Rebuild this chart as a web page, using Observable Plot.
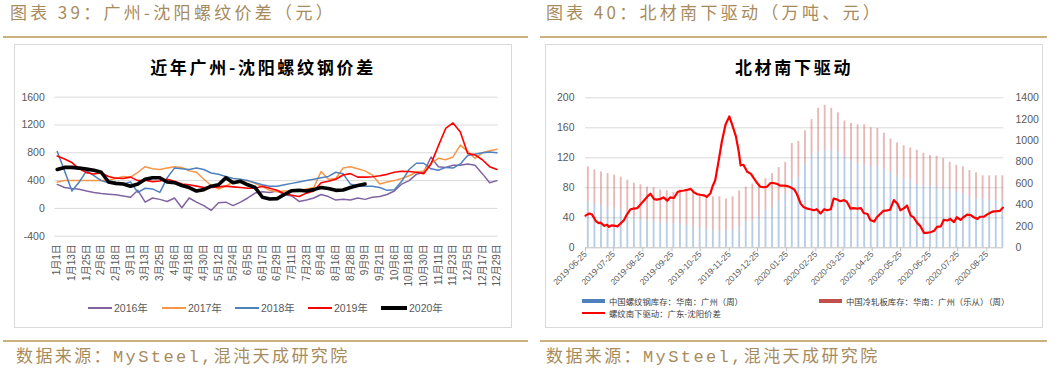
<!DOCTYPE html>
<html><head><meta charset="utf-8">
<script src="https://cdn.jsdelivr.net/npm/d3@7"></script>
<script src="https://cdn.jsdelivr.net/npm/@observablehq/plot@0.6"></script>
<style>
html,body{margin:0;padding:0;background:#fff;}
body{width:1061px;height:373px;position:relative;overflow:hidden;font-family:"Noto Sans CJK SC","Liberation Sans",sans-serif;}
.hdr{position:absolute;top:1px;font-size:17px;color:#A88B5C;letter-spacing:3.3px;white-space:nowrap;line-height:21px;}
.rule{position:absolute;height:1.5px;background:#CDB07F;}
.panel{position:absolute;border:1px solid #d9d9d9;box-sizing:border-box;}
.ptitle{position:absolute;text-align:center;font-weight:bold;font-size:17px;letter-spacing:2.7px;color:#000;line-height:20px;white-space:nowrap;}
.foot{position:absolute;top:347px;font-family:"Liberation Mono","Noto Sans CJK SC",monospace;font-size:17px;color:#A88B5C;letter-spacing:2.4px;white-space:nowrap;line-height:22px;}
.lg{position:absolute;font-size:10.5px;color:#595959;white-space:nowrap;line-height:12px;font-family:"Liberation Sans","Noto Sans CJK SC",sans-serif;}
.sw{position:absolute;}
.lg2{position:absolute;font-size:8.4px;color:#404040;white-space:nowrap;line-height:10px;}
.chart{position:absolute;}
</style></head><body>
<div class="hdr" style="left:10px">图表 39：广州-沈阳螺纹价差（元）</div>
<div class="hdr" style="left:546px">图表 40：北材南下驱动（万吨、元）</div>
<div class="rule" style="left:3px;width:525px;top:36px"></div>
<div class="rule" style="left:540px;width:507px;top:36px"></div>
<div class="panel" style="left:14px;top:44px;width:498px;height:284px"></div>
<div class="panel" style="left:545px;top:44px;width:498px;height:284px"></div>
<div class="ptitle" style="left:14px;width:498px;top:57px">近年广州-沈阳螺纹钢价差</div>
<div class="ptitle" style="left:545px;width:498px;top:57px">北材南下驱动</div>
<div id="left" class="chart" style="left:0;top:80px;width:530px;height:220px"></div>
<div id="right1" class="chart" style="left:540px;top:80px;width:521px;height:220px"></div>
<div id="right2" class="chart" style="left:540px;top:80px;width:521px;height:220px"></div>
<div id="legL"></div>
<div id="legR"></div>
<div class="rule" style="left:3px;width:525px;top:340px"></div>
<div class="rule" style="left:540px;width:507px;top:340px"></div>
<div class="foot" style="left:16px">数据来源：MySteel,混沌天成研究院</div>
<div class="foot" style="left:546px">数据来源：MySteel,混沌天成研究院</div>
<script>
// ---------- Left chart data (day index within year, step 6) ----------
const leftDays = [0,6,12,18,24,30,36,42,48,54,60,66,72,78,84,90,96,102,108,114,120,126,132,138,144,150,156,162,168,174,180,186,192,198,204,210,216,222,228,234,240,246,252,258,264,270,276,282,288,294,300,306,312,318,324,330,336,342,348,354,360];
const leftXTickIdx = [0,12,24,36,48,60,72,84,96,108,120,132,144,156,168,180,192,204,216,228,240,252,264,276,288,300,312,324,336,348,360];
const leftXLabels = ["1月1日","1月13日","1月25日","2月6日","2月18日","3月1日","3月13日","3月25日","4月6日","4月18日","4月30日","5月12日","5月24日","6月5日","6月17日","6月29日","7月11日","7月23日","8月4日","8月16日","8月28日","9月9日","9月21日","10月6日","10月18日","10月30日","11月11日","11月23日","12月5日","12月17日","12月29日"];
const leftYTicks = [-400,0,400,800,1200,1600];
const v2016 = [345,300,285,275,250,230,215,205,195,180,160,260,90,150,130,100,150,10,150,90,40,-30,80,90,40,90,150,220,240,230,250,200,180,100,120,150,200,170,120,130,120,150,130,160,170,200,250,350,400,490,520,740,600,590,620,620,640,620,500,370,400];
const v2017 = [380,400,400,400,400,400,400,410,430,460,450,520,600,570,560,580,600,590,540,520,420,330,280,320,380,390,400,360,310,260,240,250,250,250,280,300,530,420,430,580,600,570,540,480,350,380,400,430,470,520,540,650,720,700,740,910,820,720,800,830,850];
const v2018 = [820,540,250,380,540,470,400,370,370,350,380,230,290,280,230,440,580,570,560,580,560,510,490,460,430,420,400,370,340,320,320,340,360,380,400,420,440,460,520,500,350,320,320,320,300,260,270,390,560,650,650,570,550,590,580,640,760,780,800,810,800];
const v2019 = [754,710,660,570,515,495,510,460,435,430,450,400,405,385,395,420,390,350,340,320,300,300,310,320,310,300,290,290,320,290,260,210,190,170,220,250,370,390,420,480,500,450,450,455,470,490,520,535,530,520,500,640,900,1150,1230,1100,790,770,700,600,560];
const v2020 = [560,590,590,580,565,550,520,380,360,350,320,350,420,440,440,380,370,330,300,250,270,320,340,440,370,390,340,300,160,135,140,200,255,260,250,270,300,285,260,265,300,330,350];
const leftSeries = [
  {name:"2016年", values:v2016, color:"#8064A2", w:1.5},
  {name:"2017年", values:v2017, color:"#F79646", w:1.5},
  {name:"2018年", values:v2018, color:"#4F81BD", w:1.5},
  {name:"2019年", values:v2019, color:"#FF0000", w:1.6},
  {name:"2020年", values:v2020, color:"#000000", w:3.6}
];

// ---------- Right chart data ----------
const barStart = "2019-06-28";           // first weekly observation (Fridays)
const rebarStock = [61,59,56,54,53,50,48,41,39,36,35,34,33,32,32,30,28,27,25,23,22,22,24,28,34,36,41,50,54,63,72,90,94,112,123,128,130,130,128,121,116,112,110,108,108,105,101,96,92,90,85,83,82,81,79,76,74,72,68,65,65,63,63,62];
const coldStock = [47,45,45,45,44,44,42,45,45,45,45,43,43,42,45,46,46,45,45,45,46,43,44,48,47,49,43,42,45,44,42,49,48,44,48,58,60,56,52,48,50,52,54,52,51,48,44,44,44,43,45,43,41,41,40,38,36,36,35,35,31,33,33,34];
const spreadStart = "2019-06-25";
const spreadDay = [0,4,7,11,14,16,20,23,25,28,32,34,37,41,44,48,51,55,59,62,66,69,73,76,80,83,87,90,94,98,101,105,108,112,115,119,122,126,129,133,135,138,142,145,149,153,156,160,163,165,168,172,176,179,183,186,190,193,197,200,204,207,211,215,218,222,225,229,232,236,239,243,246,250,254,257,261,264,268,271,275,278,282,285,289,293,296,300,303,307,310,314,317,321,324,328,332,335,339,342,346,349,353,356,360,363,367,371,374,378,381,385,388,392,395,399,402,406,410,413,417,420,424,427,431,434,438,441,444];
const spreadVal = [300,320,310,250,230,235,205,215,195,210,205,200,225,260,310,360,365,370,410,440,480,505,455,450,457,470,440,470,465,520,530,535,540,550,520,500,495,490,475,510,570,630,830,990,1150,1226,1150,1040,900,770,775,710,690,650,600,570,565,570,605,605,595,580,580,575,565,545,500,410,380,365,360,350,360,320,360,350,360,460,450,435,445,430,365,370,365,370,325,315,260,245,285,320,345,350,355,445,410,350,370,395,300,285,230,205,140,140,145,160,195,200,260,255,270,240,285,260,285,310,305,285,270,290,290,310,330,340,342,345,375];
const rightXLabels = ["2019-06-25","2019-07-25","2019-08-25","2019-09-25","2019-10-25","2019-11-25","2019-12-25","2020-01-25","2020-02-25","2020-03-25","2020-04-25","2020-05-25","2020-06-25","2020-07-25","2020-08-25"];
const rightDomain = ["2019-06-25","2020-09-12"];
const rightYLeftTicks = [0,40,80,120,160,200];
const rightYRightTicks = [0,200,400,600,800,1000,1200,1400];

// ---------- Left chart ----------
const baseStyle = {background:"transparent", color:"#595959", fontFamily:'"Liberation Sans","Noto Sans CJK SC",sans-serif', fontSize:"10px", overflow:"visible"};
const leftRows = s => s.values.map((v,i) => ({idx:leftDays[i], value:v}));
const leftPlot = Plot.plot({
  width:530, height:220,
  marginLeft:54.3, marginRight:32.3, marginTop:16.7, marginBottom:64.3,
  x:{domain:[-2,361], axis:null},
  y:{domain:[-400,1600], axis:null},
  style:baseStyle,
  marks:[
    Plot.ruleY(leftYTicks, {stroke:"#d9d9d9", strokeWidth:1}),
    Plot.axisY({ticks:leftYTicks, tickSize:0, tickPadding:10, tickFormat:d => String(d), label:null, fontSize:10.5}),
    Plot.axisX({ticks:leftXTickIdx, tickFormat:d => leftXLabels[leftXTickIdx.indexOf(d)], tickRotate:-90, tickSize:0, tickPadding:8, label:null, fontSize:10}),
    ...leftSeries.map(s => Plot.line(leftRows(s), {x:"idx", y:"value", stroke:s.color, strokeWidth:s.w, strokeLinejoin:"round"}))
  ]
});
document.getElementById("left").append(leftPlot);

// legend left
const legL = document.getElementById("legL");
const legPos = [88,162,235,308,381];
leftSeries.forEach((s,i) => {
  const x = legPos[i];
  const sw = document.createElement("div");
  sw.className = "sw";
  const w = i === 4 ? 26 : 24, h = i === 4 ? 4 : 2;
  sw.style.cssText = `left:${x}px;top:${308 - h/2}px;width:${w}px;height:${h}px;background:${s.color}`;
  legL.append(sw);
  const t = document.createElement("div");
  t.className = "lg";
  t.style.cssText = `left:${x + w + 2}px;top:302px`;
  t.textContent = s.name;
  legL.append(t);
});

// ---------- Right chart ----------
const d0 = new Date(barStart);
const barRows = rebarStock.map((r,k) => ({date:d3.utcDay.offset(d0, 7*k), rebar:r, cold:coldStock[k]}));
const s0 = new Date(spreadStart);
const spreadRows = spreadDay.map((d,i) => ({date:d3.utcDay.offset(s0, d), value:spreadVal[i]}));
const xDom = rightDomain.map(d => new Date(d));
const xTicks = rightXLabels.map(d => new Date(d));
const fmt = d3.utcFormat("%Y-%m-%d");
const rMargins = {marginLeft:45, marginRight:57.7, marginTop:17.3, marginBottom:52.7};
const bx1 = d => d3.utcHour.offset(d.date, -24), bx2 = d => d3.utcHour.offset(d.date, 24);
const right1 = Plot.plot({
  width:521, height:220, ...rMargins,
  x:{type:"utc", domain:xDom, axis:null},
  y:{domain:[0,200], axis:null},
  style:baseStyle,
  marks:[
    Plot.ruleY(rightYLeftTicks.slice(1), {stroke:"#d9d9d9", strokeWidth:1}),
    Plot.rect(barRows, {x1:bx1, x2:bx2, y1:0, y2:"rebar", fill:"#4F81BD", fillOpacity:0.4}),
    Plot.rect(barRows, {x1:bx1, x2:bx2, y1:"rebar", y2:d => d.rebar + d.cold, fill:"#C0504D", fillOpacity:0.4}),
    Plot.ruleY([0], {stroke:"#bfbfbf", strokeWidth:1}),
    Plot.axisY({ticks:rightYLeftTicks, tickSize:0, tickPadding:11, tickFormat:d => String(d), label:null, fontSize:10.5}),
    Plot.axisX({ticks:xTicks, tickFormat:fmt, tickRotate:-45, tickSize:4, tickPadding:1, label:null, fontSize:8.5, stroke:"#bfbfbf", fill:"#595959"})
  ]
});
document.getElementById("right1").append(right1);
const right2 = Plot.plot({
  width:521, height:220, ...rMargins,
  x:{type:"utc", domain:xDom, axis:null},
  y:{domain:[0,1400], axis:null},
  style:baseStyle,
  marks:[
    Plot.axisY({anchor:"right", ticks:rightYRightTicks, tickSize:0, tickPadding:11.7, tickFormat:d => String(d), label:null, fontSize:10.5}),
    Plot.line(spreadRows, {x:"date", y:"value", stroke:"#FF0000", strokeWidth:2.2, strokeLinejoin:"round"})
  ]
});
document.getElementById("right2").append(right2);

// legend right
const legR = document.getElementById("legR");
const legItems = [
  {x:582, y:301, h:4, color:"#4F81BD", text:"中国螺纹钢库存：华南：广州（周）"},
  {x:819, y:301, h:4, color:"#C0504D", text:"中国冷轧板库存：华南：广州（乐从）（周）"},
  {x:582, y:313, h:2, color:"#FF0000", text:"螺纹南下驱动：广东-沈阳价差"}
];
legItems.forEach(it => {
  const sw = document.createElement("div");
  sw.className = "sw";
  sw.style.cssText = `left:${it.x}px;top:${it.y - it.h/2}px;width:23px;height:${it.h}px;background:${it.color}`;
  legR.append(sw);
  const t = document.createElement("div");
  t.className = "lg2";
  t.style.cssText = `left:${it.x + 27}px;top:${it.y - 5}px`;
  t.textContent = it.text;
  legR.append(t);
});
</script>
</body></html>
